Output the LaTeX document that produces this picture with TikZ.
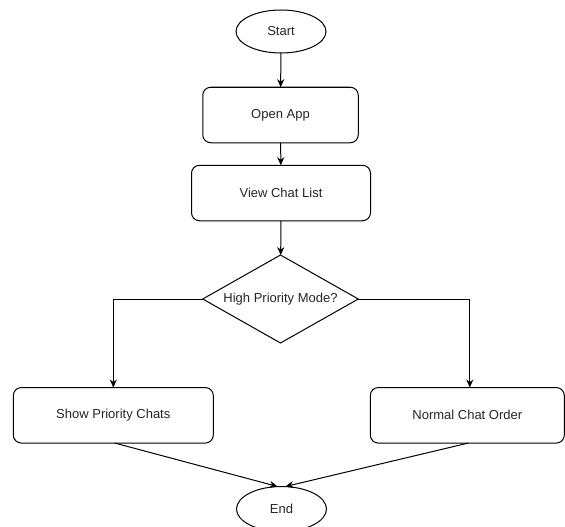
\documentclass[tikz,border=0pt]{standalone}
\usepackage{fontspec}
\setmainfont{Liberation Sans}
\usetikzlibrary{shapes.geometric,arrows.meta,calc}
\begin{document}
\begin{tikzpicture}[x=1pt,y=-1pt,
  every node/.style={font=\fontsize{13}{15}\selectfont, text=black!85, inner sep=0pt, outer sep=0pt},
  procbox/.style={draw=black, line width=1pt, rounded corners=8pt, rectangle},
  termin/.style={draw=black, line width=1pt, ellipse, minimum width=90pt, minimum height=43pt},
  decide/.style={draw=black, line width=1pt, diamond, shape aspect=1.77},
  flow/.style={draw=black, line width=1pt, -{Stealth[length=8pt,width=7pt,inset=2.5pt]}}
]
\useasboundingbox (0,0) rectangle (565,527);
\fill[white] (0,0) rectangle (565,527);

\node[termin] (start) at (281,31.5) {Start};
\node[procbox, minimum width=155.5pt, minimum height=55.5pt] (open) at (280.5,115) {Open App};
\node[procbox, minimum width=179pt, minimum height=55.5pt] (view) at (281,193) {View Chat List};
\node[decide, minimum width=155.5pt, minimum height=88pt] (dec) at (280.5,299) {High Priority Mode?};
\node[procbox, minimum width=200pt, minimum height=55.5pt] (show) at (113.3,415.3) {Show Priority Chats};
\node[procbox, minimum width=194pt, minimum height=55.5pt] (normal) at (467.3,415.3) {Normal Chat Order};
\node[termin, minimum height=45pt] (end) at (281.5,509) {End};

\draw[flow] (start) -- (open);
\draw[flow] (open) -- (view);
\draw[flow] (view) -- (dec);
\draw[flow] (dec.west) -| (show.north);
\draw[flow] (dec.east) -| ($(normal.north)+(2.5,0)$);
\draw[flow] ($(show.south)+(1.5,0)$) -- ($(end.north)+(-4,0)$);
\draw[flow] ($(normal.south)+(1,0)$) -- ($(end.north)+(4,0)$);
\end{tikzpicture}
\end{document}
